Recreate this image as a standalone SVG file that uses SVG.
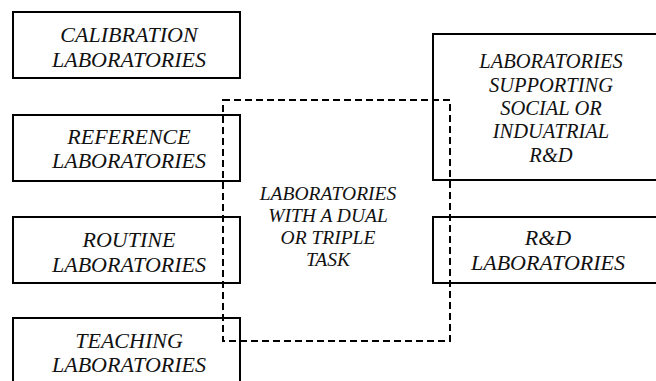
<svg xmlns="http://www.w3.org/2000/svg" width="656" height="381" viewBox="0 0 656 381">
<style>
.box{fill:none;stroke:#000;stroke-width:2}
.dash{fill:none;stroke:#000;stroke-width:2;stroke-dasharray:7 4}
text{font-family:'Liberation Serif','Times New Roman',serif;font-style:italic;font-size:22px;fill:#111;text-anchor:middle}
.c{font-size:19.5px}
.r{font-size:20.5px}
</style>
<rect width="656" height="381" fill="#fff"/>
<g id="calibration">
<rect class="box" x="13" y="12" width="227" height="66"/>
<text x="129" y="41.5">CALIBRATION</text>
<text x="129" y="66.5">LABORATORIES</text>
</g>
<g id="reference">
<rect class="box" x="13" y="115" width="227" height="66"/>
<text x="129" y="143.5">REFERENCE</text>
<text x="129" y="167.5">LABORATORIES</text>
</g>
<g id="routine">
<rect class="box" x="13" y="217" width="227" height="66"/>
<text x="129" y="246.5">ROUTINE</text>
<text x="129" y="271.5">LABORATORIES</text>
</g>
<g id="teaching">
<path class="box" d="M13,390 V318 H240 V390"/>
<text x="129" y="347.5">TEACHING</text>
<text x="129" y="371.5">LABORATORIES</text>
</g>
<g id="supporting">
<path class="box" d="M670,34 H433 V180 H670"/>
<text class="r" x="551" y="68.3">LABORATORIES</text>
<text class="r" x="551" y="91.6">SUPPORTING</text>
<text class="r" x="551" y="115">SOCIAL OR</text>
<text class="r" x="551" y="138.3">INDUATRIAL</text>
<text class="r" x="551" y="161.6">R&amp;D</text>
</g>
<g id="rnd">
<path class="box" d="M670,217 H433 V283 H670"/>
<text x="548" y="244.5">R&amp;D</text>
<text x="548" y="269.5">LABORATORIES</text>
</g>
<g id="dual">
<rect class="dash" x="223" y="100" width="227" height="241"/>
<text class="c" x="328" y="200">LABORATORIES</text>
<text class="c" x="328" y="222">WITH A DUAL</text>
<text class="c" x="328" y="244">OR TRIPLE</text>
<text class="c" x="328" y="266">TASK</text>
</g>
<g id="connectors"/>
</svg>
